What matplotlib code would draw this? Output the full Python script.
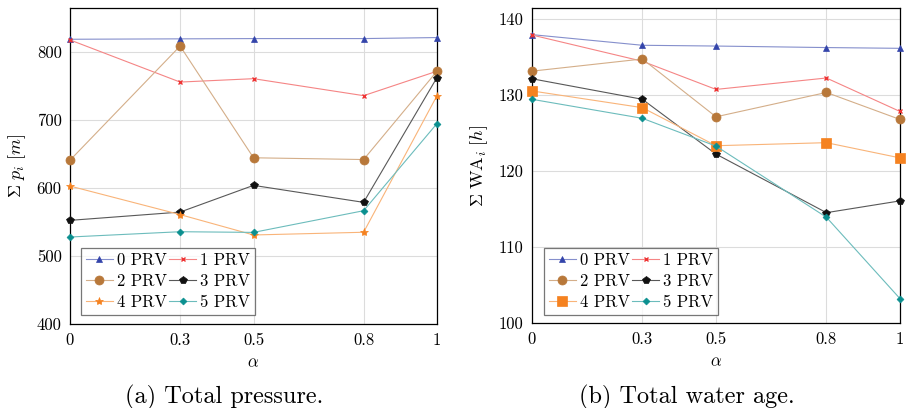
import matplotlib
matplotlib.use("Agg")
import matplotlib.pyplot as plt
from matplotlib.colors import to_rgb
import numpy as np

plt.rcParams['mathtext.fontset'] = 'cm'
plt.rcParams['font.family'] = ['cmr10', 'DejaVu Serif']
plt.rcParams['axes.formatter.use_mathtext'] = True

alpha = [0, 0.3, 0.5, 0.8, 1]
xtick_labels = ['0', '0.3', '0.5', '0.8', '1']
labels = ['0 PRV', '1 PRV', '2 PRV', '3 PRV', '4 PRV', '5 PRV']

pressure_0 = [819, 819.6, 820, 820, 821.5]
pressure_1 = [818, 756, 761, 736, 772]
pressure_2 = [641, 809, 644.6, 642, 772]
pressure_3 = [552.5, 564.7, 604, 579, 762.7]
pressure_4 = [603, 561, 531, 535, 736]
pressure_5 = [528, 535.8, 534.8, 566.7, 695]

wa_0 = [137.9, 136.5, 136.4, 136.2, 136.1]
wa_1 = [137.85, 134.4, 130.7, 132.2, 127.8]
wa_2 = [133.1, 134.7, 127.1, 130.3, 126.75]
wa_3 = [132.1, 129.4, 122.2, 114.5, 116.05]
wa_4 = [130.5, 128.3, 123.3, 123.7, 121.7]
wa_5 = [129.4, 126.9, 123.25, 113.9, 103.2]

colors = ['#3344aa', '#ee3333', '#b8783a', '#111111', '#f58220', '#0a8f8f']
markers_a = ['^', 'x', 'o', 'p', '*', 'D']
markers_b = ['^', 'x', 'o', 'p', 's', 'D']
msizes = {'^': 5, 'x': 3.5, 'o': 6.5, 'p': 6, '*': 6, 's': 7, 'D': 3.5}

def light(c, f=0.45):
    r, g, b = to_rgb(c)
    return (r + (1 - r) * f, g + (1 - g) * f, b + (1 - b) * f)

fig = plt.figure(figsize=(9.1, 4.08), dpi=100)
ax1 = fig.add_axes([70/910, 84/408, 367/910, 316/408])
ax2 = fig.add_axes([532/910, 85/408, 368/910, 315/408])

def draw(ax, series, markers, ylim, yticks, ylabel, leg_anchor):
    handles = []
    for s, c, m, lab in zip(series, colors, markers, labels):
        h, = ax.plot(alpha, s, color=light(c, 0.4 if c != '#111111' else 0.3), lw=0.8,
                     marker=m, markersize=msizes[m], markerfacecolor=c,
                     markeredgecolor=c, markeredgewidth=1.0 if m == 'x' else 0.5,
                     label=lab, clip_on=False, zorder=3)
        handles.append(h)
    ax.set_xlim(0, 1)
    ax.set_ylim(*ylim)
    ax.set_xticks(alpha)
    ax.set_xticklabels(xtick_labels)
    ax.set_yticks(yticks)
    ax.set_yticklabels([str(t) for t in yticks])
    ax.grid(True, color='#dcdcdc', lw=0.8)
    ax.set_axisbelow(True)
    ax.tick_params(length=0, labelsize=12, pad=6)
    for sp in ax.spines.values():
        sp.set_linewidth(0.9)
        sp.set_color('black')
    ax.set_xlabel(r'$\alpha$', fontsize=12, labelpad=5)
    ax.set_ylabel(ylabel, fontsize=13, labelpad=6)
    order = [0, 2, 4, 1, 3, 5]
    leg = ax.legend([handles[i] for i in order], [labels[i] for i in order],
                    ncol=2, loc='lower left', bbox_to_anchor=leg_anchor,
                    fontsize=12, frameon=True, fancybox=False, edgecolor='#555555',
                    handlelength=1.6, handletextpad=0.25, columnspacing=0.15,
                    labelspacing=0.35, borderpad=0.3, borderaxespad=0)
    leg.get_frame().set_linewidth(0.9)

draw(ax1, [pressure_0, pressure_1, pressure_2, pressure_3, pressure_4, pressure_5],
     markers_a, (400, 865), [400, 500, 600, 700, 800], r'$\Sigma\ p_i\ [m]$', (0.03, 0.028))
draw(ax2, [wa_0, wa_1, wa_2, wa_3, wa_4, wa_5],
     markers_b, (100, 141.4), [100, 110, 120, 130, 140], r'$\Sigma\ \mathrm{WA}_i\ [h]$', (0.033, 0.025))

fig.text(224/910, 11/408, '(a) Total pressure.',
         ha='center', va='center', fontsize=17.5)
fig.text(687/910, 11/408, '(b) Total water age.',
         ha='center', va='center', fontsize=17.5)

fig.savefig('out.png', dpi=100)
